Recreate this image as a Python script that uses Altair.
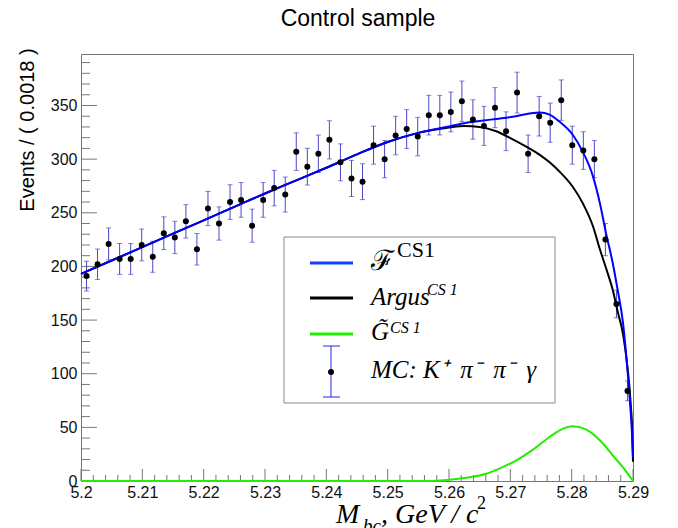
import altair as alt
import pandas as pd
import numpy as np

# ---------------- data ----------------
bin_centers = [5.2009, 5.2027, 5.2045, 5.2063, 5.2081, 5.2099, 5.2117, 5.2135, 5.2153, 5.2171,
               5.2189, 5.2207, 5.2225, 5.2243, 5.2261, 5.2279, 5.2297, 5.2315, 5.2333, 5.2351,
               5.2369, 5.2387, 5.2405, 5.2423, 5.2441, 5.2459, 5.2477, 5.2495, 5.2513, 5.2531,
               5.2549, 5.2567, 5.2585, 5.2603, 5.2621, 5.2639, 5.2657, 5.2675, 5.2693, 5.2711,
               5.2729, 5.2747, 5.2765, 5.2783, 5.2801, 5.2819, 5.2837, 5.2855, 5.2873, 5.2891]
counts = [191, 202, 221, 207, 207, 220, 209, 231, 227, 242,
          216, 254, 240, 260, 262, 238, 262, 273, 267, 307,
          293, 305, 318, 297, 282, 279, 313, 300, 322, 328,
          321, 341, 341, 344, 354, 337, 331, 348, 326, 362,
          305, 340, 334, 355, 313, 308, 300, 225, 165, 84]

black_m = [5.2000, 5.2050, 5.2100, 5.2150, 5.2200, 5.2250, 5.2300, 5.2350, 5.2400, 5.2450,
           5.2500, 5.2550, 5.2600, 5.2625, 5.2650, 5.2677, 5.2704, 5.2731, 5.2748, 5.2764,
           5.2780, 5.2802, 5.2818, 5.2835, 5.2846, 5.2856, 5.2867, 5.2875, 5.2884, 5.2891,
           5.2896, 5.2899, 5.2900]
black_v = [193, 205.5, 218, 230.5, 243, 255.5, 268, 280, 292, 304.5,
           316, 324.5, 329.5, 331, 330, 326, 318.5, 310, 304, 297,
           288.5, 274, 259, 237, 216, 198.5, 178, 158, 136, 106,
           74, 42, 18]

blue_m = [5.2000, 5.2050, 5.2100, 5.2150, 5.2200, 5.2250, 5.2300, 5.2350, 5.2400, 5.2450,
          5.2500, 5.2550, 5.2600, 5.2625, 5.2650, 5.2677, 5.2704, 5.2731, 5.2748, 5.2764,
          5.2780, 5.2802, 5.2818, 5.2835, 5.2846, 5.2856, 5.2867, 5.2875, 5.2884, 5.2890,
          5.2895, 5.2898, 5.2900]
blue_v = [193, 205.5, 218, 230.5, 243, 255.5, 268, 280, 292, 304.5,
          316, 324.5, 330.5, 333.5, 335.5, 337.5, 339.5, 342.5, 343.5, 341.5,
          335, 322.5, 307, 283.5, 259, 231, 203, 178, 146, 110,
          74, 48, 22]

green_m = [5.2000, 5.2570, 5.2580, 5.2601, 5.2628, 5.2661, 5.2682, 5.2710, 5.2737, 5.2764,
           5.2786, 5.2802, 5.2824, 5.2846, 5.2867, 5.2884, 5.2900]
green_v = [0, 0, 0.3, 1.2, 3.1, 6.8, 11.5, 19.3, 29.2, 41,
           48.8, 51, 47.8, 37.9, 23.9, 12.4, 0]

x_major = [5.20, 5.21, 5.22, 5.23, 5.24, 5.25, 5.26, 5.27, 5.28, 5.29]
y_major = [0, 50, 100, 150, 200, 250, 300, 350]

# ---------------- frames ----------------
err = np.sqrt(np.array(counts, dtype=float))
pts = pd.DataFrame({"m": bin_centers, "n": counts,
                    "lo": np.array(counts) - err, "hi": np.array(counts) + err})
blue_df = pd.DataFrame({"m": blue_m, "v": blue_v})
black_df = pd.DataFrame({"m": black_m, "v": black_v})
green_df = pd.DataFrame({"m": green_m, "v": green_v})

x_minor = [round(5.2 + 0.002 * i, 3) for i in range(46)]
x_minor = [t for t in x_minor if all(abs(t - M) > 1e-6 for M in x_major)]
y_minor = [v for v in range(10, 400, 10) if v % 50 != 0]

W, H = 552, 427
FRAME = "#777777"
SANS = "Liberation Sans"
SERIF = "Liberation Serif"
BAR = "#4848c8"

xs = alt.Scale(domain=[5.2, 5.29], nice=False, zero=False)
ys = alt.Scale(domain=[0, 398], nice=False, zero=False)
xaxis = alt.Axis(values=x_major, format=".2~f", ticks=False, tickSize=0, domain=False, grid=False,
                 labelFont=SANS, labelFontSize=16, labelColor="#111111", labelPadding=3,
                 labelFlush=False, labelOverlap=False, labelBound=False)
yaxis = alt.Axis(values=y_major, format="d", ticks=False, tickSize=0, domain=False, grid=False,
                 labelFont=SANS, labelFontSize=16, labelColor="#111111", labelPadding=4,
                 labelOverlap=False, labelBound=False)


def X(f):
    return alt.X(f, type="quantitative", scale=xs, axis=xaxis, title=None)


def Y(f):
    return alt.Y(f, type="quantitative", scale=ys, axis=yaxis, title=None)


layers = []

# inner ticks
layers.append(alt.Chart(pd.DataFrame({"t": x_major})).mark_rule(color=FRAME, strokeWidth=1).encode(
    x=X("t"), y=alt.value(H), y2=alt.value(H - 12)))
layers.append(alt.Chart(pd.DataFrame({"t": x_minor})).mark_rule(color=FRAME, strokeWidth=1).encode(
    x=X("t"), y=alt.value(H), y2=alt.value(H - 6)))
layers.append(alt.Chart(pd.DataFrame({"t": y_major})).mark_rule(color=FRAME, strokeWidth=1).encode(
    y=Y("t"), x=alt.value(0), x2=alt.value(16)))
layers.append(alt.Chart(pd.DataFrame({"t": y_minor})).mark_rule(color=FRAME, strokeWidth=1).encode(
    y=Y("t"), x=alt.value(0), x2=alt.value(9)))

# error bars and caps
layers.append(alt.Chart(pts).mark_rule(color=BAR, strokeWidth=1).encode(
    x=X("m"), y=Y("lo"), y2="hi"))
layers.append(alt.Chart(pts).mark_tick(color=BAR, orient="horizontal", size=5, thickness=1).encode(
    x=X("m"), y=Y("lo")))
layers.append(alt.Chart(pts).mark_tick(color=BAR, orient="horizontal", size=5, thickness=1).encode(
    x=X("m"), y=Y("hi")))

# curves
layers.append(alt.Chart(black_df).mark_line(color="#000000", strokeWidth=2, interpolate="monotone").encode(
    x=X("m"), y=Y("v")))
layers.append(alt.Chart(blue_df).mark_line(color="#0000ff", strokeWidth=2, interpolate="monotone").encode(
    x=X("m"), y=Y("v")))
layers.append(alt.Chart(green_df).mark_line(color="#22ee00", strokeWidth=2, interpolate="monotone").encode(
    x=X("m"), y=Y("v")))

# data points
layers.append(alt.Chart(pts).mark_circle(color="#000000", size=36, opacity=1).encode(
    x=X("m"), y=Y("n")))

# ---------------- decorations (single-row layers) ----------------
one = pd.DataFrame({"k": [0]})


def text(s, x, y, size, font=SERIF, style="italic", angle=0, align="left", baseline="alphabetic", color="#000000"):
    kw = dict(text=s, font=font, fontSize=size, fontStyle=style, align=align, baseline=baseline, color=color)
    if angle:
        kw["angle"] = angle
    return alt.Chart(one).mark_text(**kw).encode(x=alt.value(x), y=alt.value(y))


def hline(x1, x2, y, color, w):
    return alt.Chart(one).mark_rule(color=color, strokeWidth=w).encode(
        x=alt.value(x1), x2=alt.value(x2), y=alt.value(y))


# legend box
layers.append(alt.Chart(one).mark_rect(fill="#ffffff", stroke="#888888", strokeWidth=1).encode(
    x=alt.value(203), x2=alt.value(474), y=alt.value(183), y2=alt.value(349)))
layers.append(hline(229, 272, 209, "#1040ff", 3))
layers.append(hline(229, 272, 244, "#000000", 3))
layers.append(hline(229, 272, 280, "#22ee00", 3))
layers.append(alt.Chart(one).mark_rule(color="#2222ee", strokeWidth=1).encode(
    x=alt.value(250), y=alt.value(292), y2=alt.value(343)))
layers.append(hline(242, 259, 292, "#2222ee", 1))
layers.append(hline(242, 259, 343, "#2222ee", 1))
layers.append(alt.Chart(one).mark_circle(color="#000000", size=36, opacity=1).encode(
    x=alt.value(250), y=alt.value(318)))

layers.append(text("\u2131", 290, 216, 28, font="DejaVu Serif", style="normal"))
layers.append(text("CS1", 316, 203, 22, style="normal"))
layers.append(text("Argus", 290, 251, 25))
layers.append(text("CS 1", 346, 241, 16))
layers.append(text("G\u0303", 290, 286, 25))
layers.append(text("CS 1", 309, 279, 16))
layers.append(text("MC: K\u207a\u2002\u03c0\u207b\u2002\u03c0\u207b\u2002\u03b3", 290, 324, 25))

# title, axis titles
layers.append(text("Control sample", 277, -28, 23, font=SANS, style="normal", align="center"))
layers.append(text("Events / ( 0.0018 )", -47, 76, 20, font=SANS, style="normal", angle=270, align="center"))
layers.append(text("M", 255, 469, 28))
layers.append(text("bc", 282, 478, 19))
layers.append(text(", GeV / c", 300, 469, 28))
layers.append(text("2", 396, 455, 18, style="normal"))

chart = alt.layer(*layers).properties(
    width=W, height=H,
    padding={"left": 73, "top": 46, "right": 30, "bottom": 47},
    autosize=alt.AutoSizeParams(type="none"),
    background="#ffffff",
).configure_view(stroke=FRAME, strokeWidth=1)

chart.save("out.html", embed_options={"renderer": "svg", "actions": False})
